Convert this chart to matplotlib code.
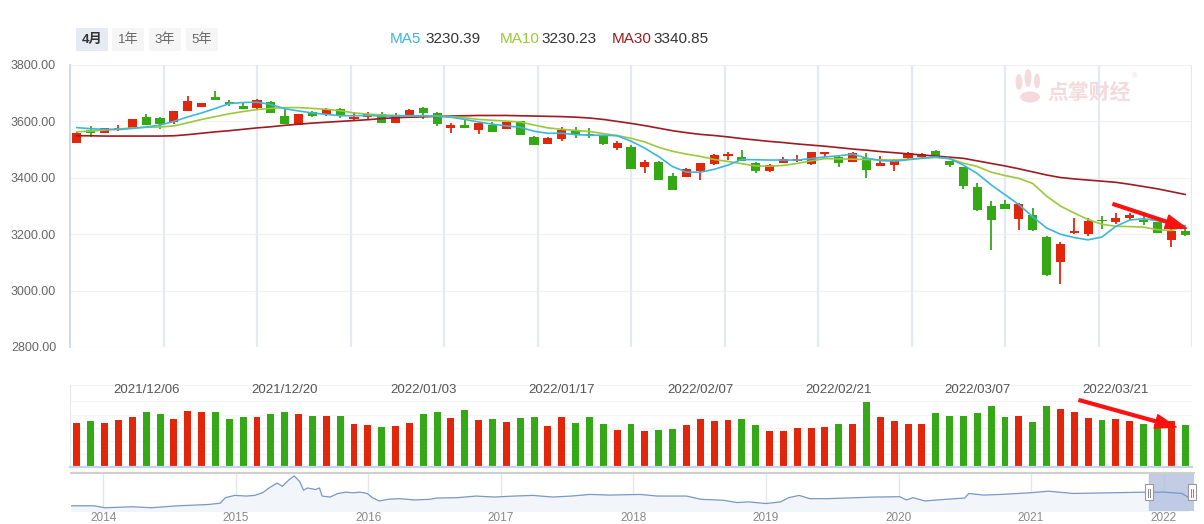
import matplotlib
matplotlib.use('Agg')
import matplotlib.pyplot as plt
import numpy as np
from matplotlib.patches import Rectangle, FancyBboxPatch, Ellipse

plt.rcParams['font.family'] = ['Liberation Sans', 'Noto Sans CJK SC', 'DejaVu Sans']

# ---------------- data ----------------
opens = [3524, 3569, 3560, 3570, 3575, 3615, 3612, 3597, 3638, 3652,
         3685, 3669, 3654, 3646, 3669, 3619, 3588, 3632, 3625, 3643,
         3607, 3617, 3628, 3595, 3622, 3647, 3630, 3577, 3587, 3570,
         3589, 3574, 3600, 3543, 3521, 3538, 3566, 3555, 3548, 3506,
         3508, 3439, 3456, 3406, 3404, 3425, 3450, 3478, 3473, 3452,
         3425, 3453, 3459, 3450, 3484, 3474, 3457, 3470, 3443, 3446,
         3469, 3474, 3495, 3459, 3438, 3368, 3300, 3307, 3255, 3267,
         3190, 3100, 3206, 3200, 3250, 3243, 3257, 3252, 3243, 3179,
         3211]
highs = [3562, 3583, 3578, 3587, 3610, 3627, 3615, 3638, 3690, 3667,
         3708, 3675, 3668, 3678, 3673, 3644, 3628, 3638, 3646, 3647,
         3634, 3632, 3632, 3630, 3644, 3651, 3632, 3593, 3608, 3596,
         3597, 3599, 3602, 3548, 3545, 3579, 3579, 3575, 3550, 3530,
         3518, 3463, 3458, 3417, 3434, 3454, 3485, 3491, 3498, 3456,
         3449, 3472, 3480, 3492, 3493, 3477, 3491, 3487, 3479, 3466,
         3491, 3488, 3498, 3461, 3440, 3382, 3318, 3321, 3309, 3293,
         3192, 3174, 3257, 3257, 3264, 3275, 3276, 3264, 3245, 3225,
         3224]
lows = [3522, 3545, 3558, 3567, 3573, 3586, 3574, 3590, 3636, 3650,
        3676, 3656, 3644, 3644, 3630, 3590, 3586, 3617, 3620, 3612,
        3601, 3608, 3594, 3593, 3620, 3609, 3585, 3560, 3576, 3555,
        3561, 3572, 3552, 3516, 3519, 3531, 3542, 3542, 3517, 3499,
        3431, 3418, 3392, 3356, 3402, 3392, 3446, 3463, 3458, 3418,
        3421, 3451, 3455, 3445, 3474, 3439, 3455, 3401, 3441, 3425,
        3467, 3470, 3476, 3439, 3361, 3283, 3143, 3289, 3215, 3213,
        3052, 3023, 3200, 3193, 3218, 3235, 3250, 3234, 3203, 3153,
        3192]
closes = [3560, 3560, 3577, 3575, 3608, 3588, 3590, 3637, 3672, 3664,
          3677, 3660, 3645, 3676, 3631, 3592, 3626, 3620, 3644, 3618,
          3615, 3626, 3595, 3619, 3640, 3631, 3592, 3587, 3577, 3594,
          3563, 3597, 3553, 3517, 3541, 3569, 3555, 3551, 3521, 3523,
          3432, 3456, 3393, 3357, 3430, 3452, 3480, 3485, 3460, 3425,
          3445, 3465, 3466, 3490, 3491, 3453, 3487, 3428, 3452, 3464,
          3488, 3484, 3478, 3446, 3372, 3287, 3251, 3290, 3307, 3215,
          3054, 3167, 3210, 3246, 3246, 3257, 3269, 3244, 3204, 3212,
          3198]
volumes = [134, 139, 134, 142, 151, 169, 163, 145, 172, 169,
           169, 145, 151, 151, 163, 169, 163, 157, 154, 157,
           130, 127, 121, 124, 133, 163, 169, 148, 175, 142,
           145, 136, 148, 151, 124, 151, 133, 151, 130, 112,
           130, 109, 112, 115, 127, 145, 139, 142, 145, 127,
           109, 109, 118, 118, 121, 130, 130, 197, 151, 139,
           130, 130, 166, 157, 157, 166, 187, 151, 154, 136,
           187, 178, 169, 148, 142, 145, 139, 130, 130, 139,
           127]
ma5 = [3578, 3574, 3572, 3571, 3575, 3580, 3587, 3600, 3616, 3630,
       3646, 3663, 3667, 3668, 3660, 3645, 3637, 3630, 3625, 3620,
       3620, 3621, 3619, 3619, 3620, 3620, 3618, 3615, 3607, 3598,
       3590, 3584, 3579, 3565, 3558, 3558, 3553, 3551, 3551, 3549,
       3530, 3505, 3475, 3440, 3420, 3420, 3430, 3445, 3465, 3464,
       3463, 3463, 3463, 3468, 3474, 3478, 3484, 3470, 3461, 3459,
       3464, 3470, 3474, 3468, 3445, 3415, 3375, 3340, 3305, 3262,
       3222, 3200, 3188, 3180, 3190, 3228, 3250, 3255, 3248, 3238,
       3230]
ma10 = [3563, 3566, 3569, 3573, 3577, 3579, 3580, 3584, 3595, 3607,
        3617, 3627, 3635, 3642, 3646, 3649, 3649, 3646, 3643, 3638,
        3630, 3626, 3623, 3621, 3620, 3620, 3619, 3617, 3613, 3607,
        3604, 3601, 3598, 3587, 3577, 3572, 3568, 3564, 3557, 3550,
        3540, 3527, 3508, 3494, 3484, 3476, 3465, 3458, 3450, 3442,
        3441, 3444, 3451, 3460, 3468, 3467, 3466, 3465, 3464, 3463,
        3466, 3469, 3472, 3468, 3452, 3440, 3420, 3408, 3398, 3380,
        3335, 3300, 3275, 3252, 3235, 3228, 3227, 3225, 3216, 3213,
        3230]
ma30 = [3549, 3549, 3548, 3548, 3548, 3548, 3548, 3549, 3553, 3558,
        3563, 3567, 3572, 3577, 3581, 3586, 3590, 3594, 3597, 3600,
        3603, 3606, 3610, 3613, 3615, 3616, 3618, 3619, 3620, 3621,
        3621, 3621, 3620, 3619, 3618, 3617, 3615, 3612, 3607, 3600,
        3593, 3585, 3576, 3567, 3560, 3554, 3550, 3545, 3539, 3534,
        3529, 3525, 3520, 3516, 3512, 3507, 3502, 3498, 3493, 3489,
        3485, 3481, 3477, 3473, 3469, 3460, 3451, 3442, 3432, 3421,
        3410, 3401, 3396, 3392, 3388, 3384, 3377, 3369, 3361, 3351,
        3341]
date_labels = ['2021/12/06', '2021/12/20', '2022/01/03', '2022/01/17',
               '2022/02/07', '2022/02/21', '2022/03/07', '2022/03/21']
date_label_idx = [5, 15, 25, 35, 45, 55, 65, 75]
price_ticks = [2800, 3000, 3200, 3400, 3600, 3800]
ma_names = ['MA5', 'MA10', 'MA30']
ma_last = ['3230.39', '3230.23', '3340.85']
range_buttons = ['4月', '1年', '3年', '5年']

nav_years = [2013.73, 2013.93, 2014.01, 2014.22, 2014.36, 2014.56, 2014.79, 2014.88, 2014.92, 2014.99,
             2015.08, 2015.14, 2015.20, 2015.25, 2015.31, 2015.35, 2015.40, 2015.44, 2015.48, 2015.51,
             2015.54, 2015.60, 2015.63, 2015.65, 2015.71, 2015.77, 2015.83, 2015.88, 2015.94, 2015.99,
             2016.03, 2016.08, 2016.15, 2016.23, 2016.35, 2016.46, 2016.52, 2016.67, 2016.81, 2016.95,
             2017.10, 2017.24, 2017.39, 2017.53, 2017.67, 2017.82, 2017.93,
             2018.05, 2018.18, 2018.40, 2018.51, 2018.68, 2018.78, 2018.87,
             2019.00, 2019.11, 2019.17, 2019.25, 2019.33, 2019.47, 2019.68, 2019.82,
             2020.01, 2020.06, 2020.11, 2020.20, 2020.36, 2020.50, 2020.53, 2020.64, 2020.77, 2020.99,
             2021.13, 2021.32, 2021.59, 2021.86, 2022.00, 2022.14, 2022.19]
nav_values = [2149, 2149, 1951, 2050, 1951, 2149, 2280, 2412, 2971, 3202,
              3136, 3202, 3465, 3958, 4452, 4123, 4781, 5176, 4616, 3728,
              3958, 3794, 3958, 3136, 3037, 3399, 3531, 3465, 3531, 3399,
              2971, 2642, 2807, 2873, 2741, 2807, 2938, 2971, 3136, 3037,
              3136, 3202, 3037, 3136, 3300, 3234, 3267,
              3300, 3136, 3136, 2807, 2708, 2478, 2544,
              2379, 2544, 2971, 3202, 2873, 2873, 2971, 3037,
              3070, 2741, 2971, 2642, 2807, 2938, 3399, 3234, 3300, 3465,
              3629, 3399, 3465, 3531, 3531, 3399, 2971]
nav_year_ticks = [2014, 2015, 2016, 2017, 2018, 2019, 2020, 2021, 2022]
nav_window = (2021.89, 2022.23)

# ---------------- styling ----------------
UP = '#e2260b'
DOWN = '#35a915'
C_MA5 = '#3db5de'
C_MA10 = '#9bc93a'
C_MA30 = '#9e1b22'

W, H = 1204, 524
fig = plt.figure(figsize=(W / 100, H / 100), dpi=100)
fig.patch.set_facecolor('white')


def fx(px):
    return px / W


def fy(py):
    return 1 - py / H


n = len(closes)
x = np.arange(n)
o = np.array(opens, float)
c = np.array(closes, float)
cols = [UP if cc >= oo else DOWN for oo, cc in zip(o, c)]
XL = (-0.5, n - 0.5)

# ---------------- main candlestick axes ----------------
ax = fig.add_axes([fx(70), fy(347), fx(1192) - fx(70), fy(65) - fy(347)])
ax.set_xlim(*XL)
ax.set_ylim(price_ticks[0], price_ticks[-1])
for s in ['top', 'right', 'bottom']:
    ax.spines[s].set_visible(False)
ax.spines['left'].set_color('#c9d6ec')
ax.spines['left'].set_linewidth(1.3)
ax.set_yticks(price_ticks)
ax.set_yticklabels(['%.2f' % t for t in price_ticks])
ax.tick_params(axis='y', length=0, pad=10, labelsize=9, labelcolor='#666666')
ax.set_xticks([])
for t in price_ticks:
    ax.axhline(t, color='#f1f1f1', lw=0.9, zorder=0)
for gx in np.linspace(XL[0], XL[1], 13)[1:]:
    ax.axvline(gx, color='#e4e9f2', lw=1.6, zorder=0)

ax.vlines(x, lows, highs, colors=cols, lw=1.3, zorder=2)
body_h = np.maximum(np.abs(c - o), 5)
ax.bar(x, body_h, bottom=np.minimum(o, c), width=0.66, color=cols, zorder=3)
ax.plot(x, ma30, color=C_MA30, lw=1.2, zorder=4)
ax.plot(x, ma10, color=C_MA10, lw=1.2, zorder=4)
ax.plot(x, ma5, color=C_MA5, lw=1.2, zorder=4)

ax.annotate('', xy=(80.1, 3221), xytext=(74.8, 3307),
            arrowprops=dict(arrowstyle='simple,head_length=1.5,head_width=1.0,tail_width=0.2',
                            color='#ff1010', mutation_scale=10, shrinkA=0, shrinkB=0), zorder=6)

# ---------------- volume axes ----------------
axv = fig.add_axes([fx(70), fy(467), fx(1192) - fx(70), fy(385) - fy(467)])
axv.set_xlim(*XL)
axv.set_ylim(0, 250)
for s in ['top', 'right']:
    axv.spines[s].set_visible(False)
axv.spines['left'].set_color('#e8e8e8')
axv.spines['bottom'].set_color('#c5d4ec')
axv.spines['bottom'].set_linewidth(1.6)
axv.set_xticks([])
axv.set_yticks([])
for g in [40, 80, 120, 160, 200, 250]:
    axv.axhline(g, color='#f4f4f4', lw=0.9, zorder=0)
axv.bar(x, volumes, width=0.5, color=cols, zorder=2)
for idx, lab in zip(date_label_idx, date_labels):
    axv.text(idx, 236, lab, ha='center', va='center', fontsize=9.5, color='#555555', zorder=5)
axv.annotate('', xy=(79.35, 122), xytext=(72.35, 204),
             arrowprops=dict(arrowstyle='simple,head_length=1.5,head_width=1.0,tail_width=0.2',
                             color='#ff1010', mutation_scale=10, shrinkA=0, shrinkB=0), zorder=6)

# ---------------- navigator ----------------
axn = fig.add_axes([fx(71), fy(511), fx(1194) - fx(71), fy(473) - fy(511)])
axn.set_xlim(2013.755, 2022.23)
axn.set_ylim(1622, 5472)
for s in ['left', 'right', 'bottom']:
    axn.spines[s].set_visible(False)
axn.spines['top'].set_color('#cfcfcf')
axn.spines['top'].set_linewidth(1.5)
axn.set_yticks([])
axn.set_xticks(nav_year_ticks)
axn.set_xticklabels([str(v) for v in nav_year_ticks])
axn.tick_params(axis='x', length=0, pad=0.5, labelsize=8.5, labelcolor='#888888')
for yv in nav_year_ticks:
    axn.axvline(yv, color='#e6e6e6', lw=1, zorder=0)
axn.fill_between(nav_years, nav_values, 1622, color='#f2f5fa', zorder=1)
axn.plot(nav_years, nav_values, color='#7b98c6', lw=0.9, zorder=3)
axn.axvspan(nav_window[0], nav_window[1], color='#b3c1df', alpha=0.8, zorder=2)

for hx in [1149, 1192]:
    fig.add_artist(Rectangle((fx(hx - 4), fy(500)), 8 / W, 16 / H, transform=fig.transFigure,
                             fc='white', ec='#999999', lw=0.8, zorder=10))
    for dx in (-1.2, 1.2):
        fig.add_artist(plt.Line2D([fx(hx + dx), fx(hx + dx)], [fy(497), fy(489)],
                                  transform=fig.transFigure, color='#888888', lw=0.7, zorder=11))

# ---------------- header: range buttons and MA legend ----------------
btn_x = [76, 112, 149, 186]
for i, (bx, lab) in enumerate(zip(btn_x, range_buttons)):
    fc = '#e6eaf3' if i == 0 else '#f5f5f5'
    fig.add_artist(FancyBboxPatch((fx(bx), fy(51)), 32 / W, 23 / H,
                                  boxstyle='round,pad=0,rounding_size=0.002',
                                  transform=fig.transFigure, fc=fc, ec='none'))
    fig.text(fx(bx + 16), fy(40), lab, ha='center', va='center', fontsize=9.5,
             fontweight='bold' if i == 0 else 'normal',
             color='#333333' if i == 0 else '#666666')

leg_pos = [(390, 425), (500, 541), (612, 653)]
for (px1, px2), name, val, col in zip(leg_pos, ma_names, ma_last, [C_MA5, C_MA10, C_MA30]):
    fig.text(fx(px1), fy(39), name, color=col, fontsize=11, va='center', ha='left')
    fig.text(fx(px2), fy(39), val, color='#333333', fontsize=11, va='center', ha='left')

# ---------------- watermark ----------------
wm = '#f5dadc'
for (ex, ey, ew, eh) in [(1019, 82, 7, 16), (1028, 78, 7, 18), (1037, 81, 6, 15), (1030, 97, 20, 11)]:
    fig.add_artist(Ellipse((fx(ex), fy(ey)), ew / W, eh / H, transform=fig.transFigure,
                           fc=wm, ec='none', zorder=1))
fig.text(fx(1047), fy(92), '点掌财经', fontsize=15, fontweight='bold', color=wm,
         family=['Noto Sans CJK SC'], va='center', ha='left')
fig.text(fx(1132), fy(77), '®', fontsize=6, color=wm, va='center', ha='left')

fig.savefig('out.png', dpi=100)
